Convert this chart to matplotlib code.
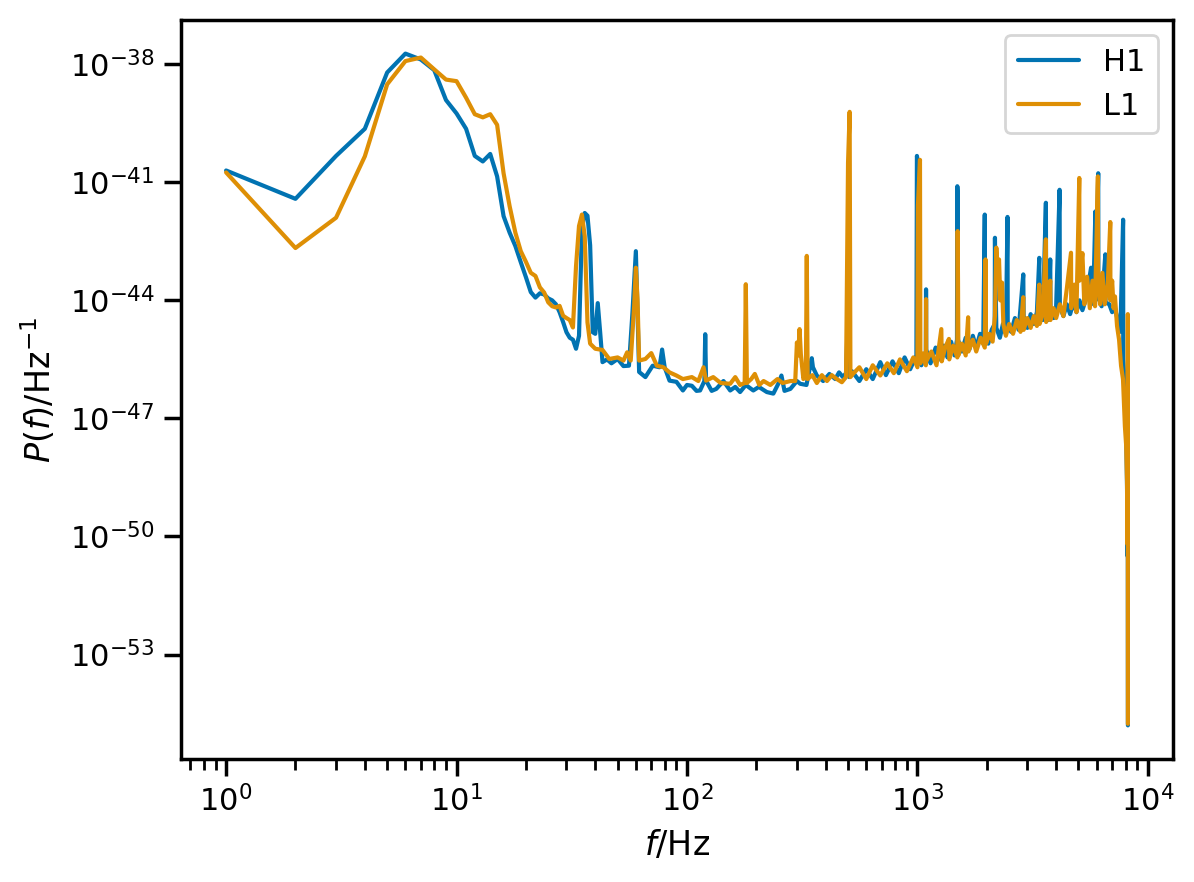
import numpy as np
import matplotlib
matplotlib.use('Agg')
import matplotlib.pyplot as plt
import seaborn as sns
from matplotlib.ticker import NullLocator

# frequencies (Hz) and log10 of the PSD
h1_freq = [1, 2, 3, 4, 5, 6, 7, 8, 9, 10, 11, 12, 13, 14, 15, 16, 17, 18, 19, 20,
           21, 22, 23, 24, 25, 26, 27, 28, 29, 30, 31, 32, 33, 34, 35, 36, 37, 38, 39, 40,
           41, 42, 43, 45, 47, 50, 53, 56, 58, 60, 61, 62, 66, 71, 76, 78, 80, 84, 90, 96,
           100, 105, 110, 114, 119, 120, 121, 128, 134, 144, 154, 162, 170, 180, 194, 205,
           222, 237, 250, 257, 265, 281, 300, 310, 330, 348, 352, 366, 390, 415, 440, 457,
           475, 490, 503, 506, 520, 560, 600, 640, 690, 730, 780, 830, 880, 930, 990, 995,
           1000, 1005, 1040, 1088, 1090, 1092, 1140, 1200, 1250, 1300, 1350, 1400, 1450,
           1485, 1490, 1495, 1500, 1560, 1620, 1680, 1740, 1800, 1870, 1930, 1960, 1965,
           2030, 2100, 2165, 2170, 2175, 2200, 2280, 2350, 2420, 2460, 2465, 2550, 2650,
           2750, 2880, 2890, 3000, 3100, 3200, 3300, 3380, 3390, 3500, 3610, 3620, 3700,
           3770, 3780, 3900, 4000, 4140, 4150, 4300, 4450, 4600, 4750, 4900, 5050, 5200,
           5400, 5670, 5680, 5800, 5920, 5930, 6090, 6100, 6300, 6540, 6550, 6800, 7000,
           7200, 7400, 7600, 7810, 7820, 7950, 8050, 8120, 8170, 8185, 8192]
h1_logp = [-40.70, -41.42, -40.33, -39.64, -38.21, -37.73, -37.88, -38.15, -38.91, -39.25,
           -39.64, -40.33, -40.47, -40.28, -40.85, -41.86, -42.28, -42.62, -43.03, -43.41,
           -43.79, -43.93, -43.82, -43.85, -43.95, -44.00, -44.10, -44.30, -44.55, -44.81,
           -44.95, -45.00, -45.23, -44.90, -42.20, -41.78, -41.85, -42.60, -44.81, -44.85,
           -44.07, -44.81, -45.57, -45.50, -45.60, -45.49, -45.67, -45.66, -44.31, -42.75,
           -44.31, -45.82, -45.95, -45.66, -45.70, -45.25, -45.70, -46.04, -46.07, -46.29,
           -46.15, -46.17, -46.30, -46.29, -46.05, -44.86, -46.04, -46.30, -46.25, -46.05,
           -46.29, -46.20, -46.33, -46.15, -46.29, -46.20, -46.33, -46.37, -46.10, -45.91,
           -46.30, -46.25, -46.05, -46.12, -46.15, -45.47, -45.70, -45.91, -46.05, -45.87,
           -46.00, -45.83, -45.95, -45.85, -43.92, -45.95, -45.80, -46.05, -45.75, -46.00,
           -45.57, -45.90, -45.55, -45.85, -45.45, -45.75, -45.40, -40.33, -40.40, -45.30,
           -45.65, -45.30, -43.72, -45.25, -45.60, -45.20, -45.50, -45.15, -45.45, -45.05,
           -45.40, -45.00, -41.10, -41.30, -45.00, -45.30, -44.95, -45.25, -44.90, -45.20,
           -44.85, -45.10, -41.82, -44.80, -45.10, -44.75, -44.60, -42.41, -43.00, -44.70,
           -44.95, -44.60, -44.85, -41.88, -44.55, -44.80, -44.45, -44.75, -43.34, -44.40,
           -44.70, -44.35, -44.60, -44.30, -42.92, -44.30, -44.50, -41.52, -44.25, -44.50,
           -42.96, -44.20, -44.45, -44.15, -41.19, -44.15, -44.40, -44.10, -44.35, -44.05,
           -44.30, -44.00, -44.25, -43.95, -43.17, -44.10, -43.90, -41.74, -44.00, -40.77,
           -43.90, -44.15, -42.83, -44.05, -44.10, -44.30, -44.20, -44.50, -44.80, -41.95,
           -45.50, -46.20, -47.30, -48.70, -50.50, -49.00, -54.80]

l1_freq = [1, 2, 3, 4, 5, 6, 7, 8, 9, 10, 11, 12, 13, 14, 15, 16, 17, 18, 19, 20,
           21, 22, 23, 24, 25, 26, 27, 28, 29, 30, 31, 32, 33, 34, 35, 36, 37, 38, 40, 43,
           46, 50, 53, 55, 57, 59, 60, 61, 62, 66, 70, 74, 79, 84, 90, 96, 105, 112, 118,
           121, 130, 140, 154, 162, 170, 178, 180, 182, 190, 197, 206, 215, 230, 247, 260,
           281, 295, 300, 304, 308, 312, 320, 328, 331, 334, 350, 366, 385, 405, 425, 447,
           470, 490, 500, 508, 512, 525, 560, 600, 640, 690, 740, 790, 840, 900, 960, 1000,
           1005, 1026, 1030, 1060, 1088, 1090, 1092, 1150, 1210, 1270, 1275, 1320, 1370,
           1375, 1430, 1490, 1495, 1500, 1505, 1560, 1620, 1660, 1665, 1740, 1800, 1880,
           1960, 1975, 1985, 2050, 2120, 2170, 2200, 2230, 2260, 2290, 2330, 2360, 2420,
           2500, 2600, 2700, 2800, 2880, 2890, 3000, 3100, 3200, 3300, 3380, 3390, 3500,
           3610, 3620, 3700, 3770, 3780, 3900, 4000, 4150, 4300, 4450, 4640, 4650, 4800,
           4900, 5040, 5050, 5200, 5300, 5450, 5600, 5750, 5900, 6070, 6080, 6200, 6350,
           6500, 6700, 6870, 6880, 7000, 7100, 7200, 7350, 7500, 7650, 7800, 7950, 8050,
           8120, 8170, 8185, 8192]
l1_logp = [-40.75, -42.67, -41.90, -40.34, -38.51, -37.92, -37.83, -38.13, -38.39, -38.43,
           -38.85, -39.27, -39.35, -39.27, -39.54, -40.77, -41.61, -42.28, -42.75, -43.02,
           -43.30, -43.38, -43.67, -43.80, -44.05, -44.15, -44.18, -44.14, -44.39, -44.45,
           -44.50, -44.69, -43.13, -42.11, -41.82, -42.37, -44.56, -45.10, -45.23, -45.26,
           -45.49, -45.45, -45.53, -45.32, -45.53, -44.14, -43.17, -43.97, -45.53, -45.49,
           -45.34, -45.66, -45.70, -45.83, -45.91, -46.00, -45.95, -46.05, -45.70, -46.04,
           -45.95, -46.10, -46.12, -45.95, -46.15, -46.10, -43.59, -46.10, -46.00, -45.87,
           -46.15, -46.05, -46.15, -46.00, -46.10, -46.05, -46.05, -45.07, -45.40, -44.73,
           -45.37, -46.00, -45.90, -42.87, -46.00, -45.90, -46.10, -45.90, -46.05, -45.90,
           -46.00, -46.08, -45.95, -40.50, -39.21, -45.95, -45.87, -45.70, -46.00, -45.65,
           -45.91, -45.60, -45.85, -45.50, -45.80, -45.45, -45.70, -41.60, -40.43, -45.60,
           -45.35, -45.65, -43.97, -45.55, -45.30, -45.65, -44.73, -45.55, -45.20, -44.98,
           -45.50, -45.15, -45.45, -42.24, -43.50, -45.40, -45.10, -45.40, -44.43, -45.30,
           -45.00, -45.30, -44.95, -45.20, -42.96, -45.10, -44.85, -45.05, -44.40, -42.66,
           -43.30, -42.96, -44.00, -43.55, -44.60, -44.90, -44.60, -44.85, -44.50, -44.80,
           -43.92, -44.75, -44.45, -44.70, -44.40, -44.65, -43.60, -44.60, -44.35, -42.45,
           -44.55, -44.30, -43.50, -44.50, -44.20, -44.45, -44.10, -44.40, -43.70, -42.79,
           -44.20, -43.60, -44.30, -40.89, -43.50, -42.80, -44.10, -43.40, -44.20, -43.50,
           -44.15, -40.85, -43.40, -44.10, -43.30, -44.10, -43.60, -42.01, -44.00, -43.50,
           -44.20, -43.90, -44.65, -45.00, -45.66, -46.00, -47.20, -47.68, -48.60, -50.20,
           -44.35, -54.76]

y_ticks = [-38, -41, -44, -47, -50, -53]


def main():
  sns.set_theme(context="notebook", style="ticks", palette="colorblind")
  # black text and frame as in the original
  plt.rcParams.update({'text.color': 'black', 'axes.labelcolor': 'black',
                       'axes.edgecolor': 'black', 'xtick.color': 'black',
                       'ytick.color': 'black'})

  fig = plt.figure(figsize=(5.97, 4.41), dpi=200)
  ax = fig.add_subplot(111)
  fig.subplots_adjust(left=0.1516, right=0.9824, bottom=0.1395, top=0.9773)

  ax.loglog(h1_freq, 10.0 ** np.array(h1_logp), label="H1")
  ax.loglog(l1_freq, 10.0 ** np.array(l1_logp), label="L1")

  ax.set_yticks([10.0 ** t for t in y_ticks])
  ax.yaxis.set_minor_locator(NullLocator())

  ax.set_xlabel(r"$f/\mathrm{Hz}$")
  ax.set_ylabel(r"$P(f)/\mathrm{Hz}^{-1}$")
  ax.legend(loc="upper right")

  fig.savefig("out.png", dpi=200)


if __name__ == "__main__":
  main()
